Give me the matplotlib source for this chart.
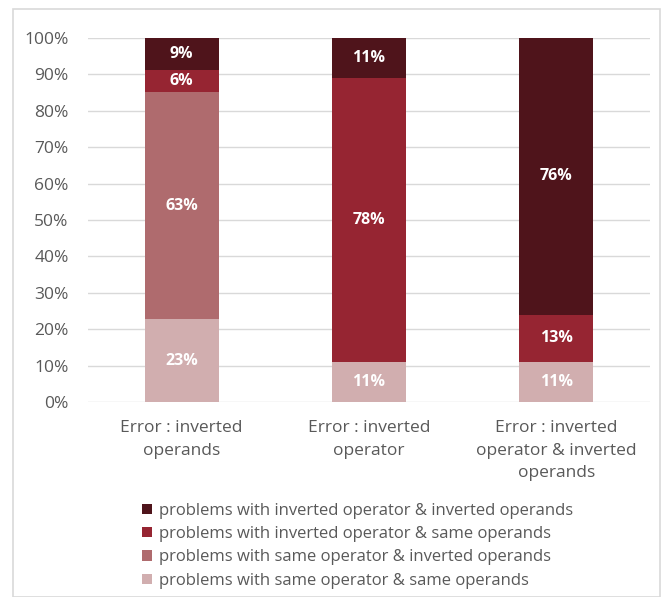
import matplotlib
matplotlib.use("Agg")
import matplotlib.pyplot as plt
from matplotlib.patches import Rectangle
import numpy as np

plt.rcParams['font.family'] = ['Open Sans', 'DejaVu Sans']

categories = ["Error : inverted\noperands", "Error : inverted\noperator",
              "Error : inverted\noperator & inverted\noperands"]
series_names = ["problems with same operator & same operands",
                "problems with same operator & inverted operands",
                "problems with inverted operator & same operands",
                "problems with inverted operator & inverted operands"]
same_same = [23, 11, 11]
same_inv = [63, 0, 0]
inv_same = [6, 78, 13]
inv_inv = [9, 11, 76]
colors = ["#D1AEAF", "#AF6B6E", "#962532", "#4F141B"]
yticks = [0, 10, 20, 30, 40, 50, 60, 70, 80, 90, 100]

series = [same_same, same_inv, inv_same, inv_inv]
data = np.array(series, dtype=float)
totals = data.sum(axis=0)
norm = data / totals * 100

fig = plt.figure(figsize=(6.61, 5.97), dpi=100)
fig.patches.append(Rectangle((12.5/661, 0), (660-12.5)/661, 1-8.5/597,
                             transform=fig.transFigure, fill=False,
                             edgecolor="#D9D9D9", lw=1.2))
ax = fig.add_axes([88/661, 1-402/597, (650-88)/661, (402-38)/597])

x = np.arange(len(categories))
bottom = np.zeros(len(categories))
handles = []
for i, (vals, nv) in enumerate(zip(data, norm)):
    h = ax.bar(x, nv, 0.395, bottom=bottom, color=colors[i], label=series_names[i],
               zorder=3)
    handles.append(h)
    for j in range(len(categories)):
        if vals[j] > 0:
            ax.text(x[j], bottom[j] + nv[j] / 2, f"{int(vals[j])}%", ha="center",
                    va="center", color="white", fontsize=11.5, fontweight="bold", zorder=4)
    bottom += nv

ax.set_xlim(-0.5, 2.5)
ax.set_ylim(0, 100)
ax.set_yticks(yticks)
ax.set_yticklabels([f"{t}%" for t in yticks])
ax.set_xticks(x)
ax.set_xticklabels(categories, fontsize=12.5, color="#595959", linespacing=1.55)
ax.tick_params(axis="y", length=0, labelsize=12.5, labelcolor="#595959", pad=14)
ax.tick_params(axis="x", length=0, pad=13)
ax.grid(axis="y", color="#D9D9D9", lw=1, zorder=0)
for s in ax.spines.values():
    s.set_visible(False)

leg = fig.legend(handles[::-1], series_names[::-1], loc="upper left",
                 bbox_to_anchor=(135/661, 1-496/597), frameon=False,
                 fontsize=12, handlelength=0.6, handleheight=0.6,
                 handletextpad=0.45, labelspacing=0.44, borderaxespad=0)
for t in leg.get_texts():
    t.set_color("#595959")

fig.savefig("out.png", dpi=100)
